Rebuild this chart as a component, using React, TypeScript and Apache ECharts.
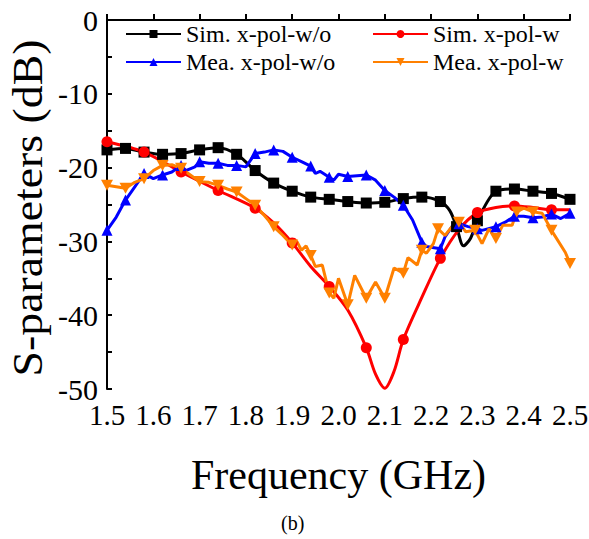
import React, { useEffect, useRef } from "react";
import * as echarts from "echarts";

const FONT = "'Liberation Serif', 'Times New Roman', serif";

const seriesNames = ["Sim. x-pol-w/o", "Sim. x-pol-w", "Mea. x-pol-w/o", "Mea. x-pol-w"];

const simWo: number[][] = [
  [1.50, -17.6], [1.54, -17.4], [1.58, -17.9], [1.62, -18.2], [1.66, -18.1], [1.70, -17.6],
  [1.74, -17.3], [1.78, -18.2], [1.82, -20.4], [1.86, -22.1], [1.90, -23.2], [1.94, -24.0],
  [1.98, -24.3], [2.02, -24.6], [2.06, -24.8], [2.10, -24.7], [2.14, -24.2], [2.18, -24.0],
  [2.22, -24.6], [2.24, -25.8], [2.255, -28.0], [2.27, -30.6], [2.285, -29.6], [2.30, -27.2],
  [2.34, -23.2], [2.38, -22.9], [2.42, -23.2], [2.46, -23.5], [2.50, -24.3],
];

const simW: number[][] = [
  [1.50, -16.5], [1.58, -17.9], [1.66, -20.6], [1.74, -23.1], [1.82, -25.5], [1.86, -27.5],
  [1.90, -30.2], [1.94, -33.4], [1.98, -36.1], [2.02, -39.3], [2.06, -44.4], [2.08, -48.0],
  [2.10, -49.9], [2.12, -47.6], [2.14, -43.3], [2.18, -37.6], [2.22, -32.3], [2.26, -28.4],
  [2.30, -26.1], [2.34, -25.4], [2.38, -25.2], [2.42, -25.4], [2.46, -25.7], [2.50, -25.7],
];

const meaWo: number[][] = [
  [1.50, -28.5], [1.52, -26.7], [1.54, -24.4], [1.56, -22.6], [1.58, -20.8], [1.60, -21.5],
  [1.62, -21.0], [1.64, -20.6], [1.66, -19.7], [1.67, -20.4], [1.69, -19.9], [1.70, -19.2],
  [1.72, -19.4], [1.74, -19.4], [1.76, -19.7], [1.78, -19.7], [1.80, -19.9], [1.82, -18.1],
  [1.84, -17.9], [1.86, -17.6], [1.88, -17.8], [1.90, -18.6], [1.92, -19.2], [1.94, -19.8],
  [1.95, -20.8], [1.96, -20.5], [1.98, -21.3], [1.99, -21.7], [2.00, -20.9], [2.02, -21.2],
  [2.06, -21.0], [2.08, -21.7], [2.10, -23.1], [2.12, -24.0], [2.14, -25.1], [2.16, -27.1],
  [2.18, -30.1], [2.19, -30.7], [2.22, -31.0], [2.23, -29.4], [2.245, -28.0], [2.26, -27.6],
  [2.28, -28.0], [2.30, -28.3], [2.31, -28.5], [2.34, -28.0], [2.36, -27.4], [2.38, -26.6],
  [2.40, -26.6], [2.42, -26.8], [2.44, -26.7], [2.46, -26.3], [2.48, -26.9], [2.50, -26.2],
];

const meaW: number[][] = [
  [1.50, -22.4], [1.52, -22.6], [1.54, -22.8], [1.56, -22.0], [1.58, -21.5], [1.60, -20.4],
  [1.62, -19.7], [1.64, -19.6], [1.66, -20.1], [1.68, -21.0], [1.70, -21.9], [1.72, -22.0],
  [1.74, -22.4], [1.76, -22.9], [1.78, -23.3], [1.80, -24.2], [1.82, -25.1], [1.84, -26.5],
  [1.86, -28.0], [1.88, -29.2], [1.90, -30.5], [1.91, -30.0], [1.92, -31.2], [1.93, -30.6],
  [1.94, -31.9], [1.95, -33.4], [1.965, -33.2], [1.98, -37.0], [1.99, -37.7], [2.00, -35.0],
  [2.02, -38.6], [2.035, -34.6], [2.06, -37.7], [2.08, -35.5], [2.10, -37.7], [2.12, -33.6],
  [2.14, -34.3], [2.15, -32.2], [2.17, -33.2], [2.18, -31.2], [2.19, -31.6], [2.205, -30.3],
  [2.215, -28.3], [2.23, -29.2], [2.245, -28.0], [2.26, -27.4], [2.275, -28.7], [2.295, -28.5],
  [2.31, -30.3], [2.325, -28.3], [2.34, -29.6], [2.355, -27.8], [2.375, -27.8], [2.385, -26.0],
  [2.40, -25.5], [2.42, -26.0], [2.44, -26.2], [2.46, -28.5], [2.49, -31.5], [2.50, -33.0],
];

const yTitle = "S-parameters (dB)";

const colors = ["#000000", "#ff0000", "#0000ff", "#ff8000"];
const symbols = ["rect", "circle", "triangle", "path://M0,0 L10,0 L5,9 Z"];
const markerStep = [0.04, 0.08, 0.04, 0.04];

function withMarkers(data: number[][], step: number) {
  const marked = new Set<number>();
  for (let g = 1.5; g <= 2.5001; g += step) {
    let best = -1;
    let bestD = 1e9;
    data.forEach((p, i) => {
      const d = Math.abs(p[0] - g);
      if (d < bestD) {
        bestD = d;
        best = i;
      }
    });
    if (best >= 0 && bestD < 0.012) marked.add(best);
  }
  return data.map((p, i) => (marked.has(i) ? { value: p } : { value: p, symbol: "none" }));
}

export default function App() {
  const ref = useRef<HTMLDivElement>(null);
  useEffect(() => {
    if (!ref.current) return;
    const chart = echarts.init(ref.current, undefined, { renderer: "svg" });
    const all = [simWo, simW, meaWo, meaW];
    const smooth = [0.3, 0.3, false, false];
    const legendCommon = {
      orient: "vertical", itemWidth: 55, itemHeight: 10, itemGap: 4, top: 17, padding: 5,
      textStyle: { fontSize: 24, fontFamily: FONT, color: "#000" },
    };
    const option: any = {
      animation: false,
      backgroundColor: "#ffffff",
      grid: { left: 107, right: 19, top: 20, bottom: 150, outerBoundsMode: "none", containLabel: false },
      legend: [
        { ...legendCommon, data: [seriesNames[0], seriesNames[2]], left: 120 },
        { ...legendCommon, data: [seriesNames[1], seriesNames[3]], left: 367 },
      ],
      xAxis: {
        type: "value", min: 1.5, max: 2.5, interval: 0.1,
        name: "Frequency (GHz)", nameLocation: "middle", nameGap: 65, nameMoveOverlap: false,
        nameTextStyle: { fontSize: 42, fontFamily: FONT, color: "#000" },
        axisLine: { show: true, lineStyle: { color: "#000", width: 2 } },
        axisTick: { show: true, inside: true, length: 6, lineStyle: { width: 2, color: "#000" } },
        axisLabel: { fontSize: 29, fontFamily: FONT, color: "#000", margin: 11, formatter: (v: number) => v.toFixed(1) },
        splitLine: { show: false },
      },
      yAxis: {
        type: "value", min: -50, max: 0, interval: 10,
        axisLine: { show: true, lineStyle: { color: "#000", width: 2 } },
        axisTick: { show: true, inside: true, length: 5, lineStyle: { width: 2, color: "#000" } },
        minorTick: { show: true, splitNumber: 2, length: 5, lineStyle: { width: 2, color: "#000" } },
        axisLabel: { fontSize: 30, fontFamily: FONT, color: "#000", margin: 9 },
        splitLine: { show: false },
      },
      graphic: [
        {
          type: "text", x: 28, y: 208, rotation: Math.PI / 2, scaleX: 1.09,
          style: { text: yTitle, fontSize: 42, fontFamily: FONT, fill: "#000", align: "center", verticalAlign: "middle" },
        },
        { type: "text", left: 281, top: 513, style: { text: "(b)", fontSize: 20, fontFamily: FONT, fill: "#000" } },
      ],
      series: all.map((d, i) => ({
        name: seriesNames[i],
        type: "line",
        data: withMarkers(d, markerStep[i]),
        smooth: smooth[i],
        symbol: symbols[i],
        symbolSize: i === 3 ? [12, 11] : 11,
        showAllSymbol: true,
        lineStyle: { color: colors[i], width: 3 },
        itemStyle: { color: colors[i] },
        clip: true,
      })),
    };
    chart.setOption(option);
    return () => chart.dispose();
  }, []);
  return <div ref={ref} style={{ position: "absolute", left: 0, top: 0, width: 589, height: 539 }} />;
}
